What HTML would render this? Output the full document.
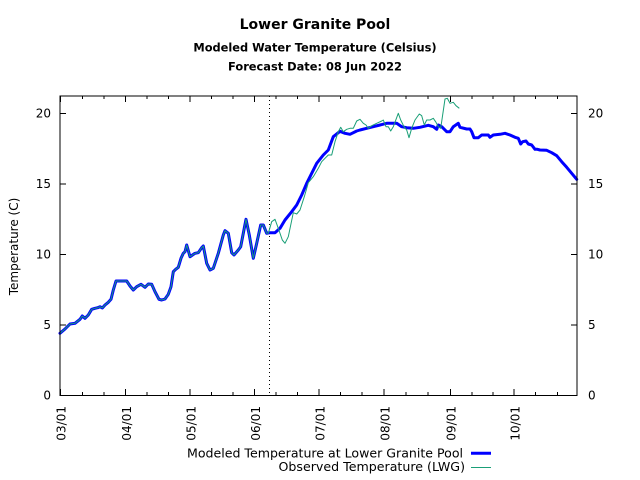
<!DOCTYPE html>
<html><head><meta charset="utf-8"><style>
html,body{margin:0;padding:0;background:#fff;}
svg{display:block;}
text{font-family:"DejaVu Sans","Liberation Sans",sans-serif;fill:#000;}
</style></head><body>
<svg width="640" height="480" viewBox="0 0 640 480" xmlns="http://www.w3.org/2000/svg">
<rect width="640" height="480" fill="#fff"/>
<text x="315" y="29" text-anchor="middle" font-size="14" font-weight="bold">Lower Granite Pool</text>
<text x="315" y="51.5" text-anchor="middle" font-size="11.4" font-weight="bold">Modeled Water Temperature (Celsius)</text>
<text x="315" y="70.5" text-anchor="middle" font-size="11.4" font-weight="bold">Forecast Date: 08 Jun 2022</text>

<!-- y labels left -->
<g font-size="12" text-anchor="end">
<text x="51" y="399.7">0</text>
<text x="51" y="329.2">5</text>
<text x="51" y="258.7">10</text>
<text x="51" y="188.2">15</text>
<text x="51" y="117.7">20</text>
</g>
<g font-size="12" text-anchor="start">
<text x="588" y="399.7">0</text>
<text x="588" y="329.2">5</text>
<text x="588" y="258.7">10</text>
<text x="588" y="188.2">15</text>
<text x="588" y="117.7">20</text>
</g>
<text transform="translate(18,246.5) rotate(-90)" font-size="12" text-anchor="middle">Temperature (C)</text>

<!-- x labels -->
<g font-size="12" text-anchor="end">
<text transform="translate(65.5,406) rotate(-90)">03/01</text>
<text transform="translate(131,406) rotate(-90)">04/01</text>
<text transform="translate(195.5,406) rotate(-90)">05/01</text>
<text transform="translate(260,406) rotate(-90)">06/01</text>
<text transform="translate(324.5,406) rotate(-90)">07/01</text>
<text transform="translate(389.5,406) rotate(-90)">08/01</text>
<text transform="translate(455.5,406) rotate(-90)">09/01</text>
<text transform="translate(519.5,406) rotate(-90)">10/01</text>
</g>

<!-- ticks -->
<g stroke="#000" stroke-width="1" fill="none">
<path d="M60,395.5h6M60,325h6M60,254.5h6M60,184h6M60,113.5h6"/>
<path d="M577,395.5h-6M577,325h-6M577,254.5h-6M577,184h-6M577,113.5h-6"/>
<path d="M60.5,395v-6M125.5,395v-6M190,395v-6M254.5,395v-6M319,395v-6M384,395v-6M450.5,395v-6M514,395v-6"/>
<path d="M60.5,96v6M125.5,96v6M190,96v6M254.5,96v6M319,96v6M384,96v6M450.5,96v6M514,96v6"/>
<path d="M82.5,395v-3M104,395v-3M147,395v-3M168.5,395v-3M211.5,395v-3M233,395v-3M276,395v-3M297.5,395v-3M340.5,395v-3M362,395v-3M406,395v-3M428,395v-3M472,395v-3M493,395v-3M535.5,395v-3M557.5,395v-3"/>
<path d="M82.5,96v3M104,96v3M147,96v3M168.5,96v3M211.5,96v3M233,96v3M276,96v3M297.5,96v3M340.5,96v3M362,96v3M406,96v3M428,96v3M472,96v3M493,96v3M535.5,96v3M557.5,96v3"/>
</g>

<!-- forecast date line -->
<line x1="269.5" y1="96" x2="269.5" y2="395" stroke="#000" stroke-width="1" stroke-dasharray="1,3"/>

<!-- modeled -->
<polyline fill="none" stroke="#0000ff" stroke-width="3" stroke-linejoin="round" stroke-linecap="round" points="60,333.3 65,329 70,324 75,323.3 80,319.3 82.3,316 85,318.3 88.3,315 91.7,309.3 95,308.3 97.7,307.7 100,306.7 102.3,308 105,305 108.3,302.3 111,299.3 113.3,290 116,281 121.7,281 126.7,281 130,286 133.3,290 136.7,286.7 141,284.3 145,287.3 148.3,284 151.7,284.3 155,291.7 159,299.3 161.7,300 165,299 168.3,294.3 171,286.7 173.3,271.7 175.7,269.3 178.3,267.3 181,258.3 183.3,253.3 185,251.7 186.7,245 190,256.7 195,253.3 198.3,252.7 201.7,247.7 203.3,246 206.7,263.3 210,270 213.3,268.3 218.3,253.3 223.3,235 225,230.7 228.3,233.3 231.7,252.7 234,255 238.3,250 240.7,246.7 246,219.3 249.3,235 253.3,258.3 256.7,243.3 260.7,225 263.3,225 266.7,233.3 270,232.7 275,232.7 280,228.3 285,220 291.7,211.7 296.7,205 301.7,195 306.7,183.3 311.7,173.3 316.7,163.3 323.3,155 328.3,150 333.3,136.7 340,131.3 345,133.3 350,134.3 356.7,131 360,130 366.7,128.3 373.3,126.7 380,125 386.7,123.3 396.7,123.3 401.7,126.7 406.7,127.7 413.3,128.3 420,127.3 428.3,125.3 433.3,126.7 436.7,129.3 438.3,125 441.7,126.7 446.7,131.7 450,131.7 453.3,126.7 458.3,123.3 460,127.3 466.7,129 470,129 471.7,131.7 474,137.7 478.3,137.7 481.7,135 488.3,135 490,137.3 493.3,135 500,134.3 505,133.3 510,135 515,137.3 518.3,138.3 520.7,144 522.7,141.7 526,141 528.3,144 531.7,145 535,149.3 537.3,149.3 540,150 546.7,150.3 551.7,152.7 556.7,155.7 561.7,161.7 566.7,167.3 571.7,173.3 576.7,179.3"/>

<!-- observed -->
<polyline fill="none" stroke="#1a9f77" stroke-width="1" stroke-linejoin="round" points="60,333.3 65,329 70,324 75,323.3 80,319.3 82.3,316 85,318.3 88.3,315 91.7,309.3 95,308.3 97.7,307.7 100,306.7 102.3,308 105,305 108.3,302.3 111,299.3 113.3,290 116,281 121.7,281 126.7,281 130,286 133.3,290 136.7,286.7 141,284.3 145,287.3 148.3,284 151.7,284.3 155,291.7 159,299.3 161.7,300 165,299 168.3,294.3 171,286.7 173.3,271.7 175.7,269.3 178.3,267.3 181,258.3 183.3,253.3 185,251.7 186.7,245 190,256.7 195,253.3 198.3,252.7 201.7,247.7 203.3,246 206.7,263.3 210,270 213.3,268.3 218.3,253.3 223.3,235 225,230.7 228.3,233.3 231.7,252.7 234,255 238.3,250 240.7,246.7 246,219.3 249.3,235 253.3,258.3 256.7,243.3 260.7,225 263.3,225 266.7,233.3 268.3,233.3 271.7,221.7 275,219.3 278.3,228.3 282.3,240 285,243.3 288.3,236.7 293.3,212.7 296.7,214 300,210 304.3,196.7 308.3,182.7 313.3,176.7 318.3,168.3 321.7,161.7 325,158.3 328.3,155 331.7,155 335,141.7 338.3,131.7 340.7,127.3 343.3,131.7 346.7,129.3 350,128.3 353.3,128.3 356.7,121 360,119.3 363.3,123.3 366,125 368.3,128.3 371.7,125.7 376.7,123.3 381.7,121 383.3,120 386,126.7 388.3,126.7 390.7,131 393.3,126.7 398.3,113.3 400.7,120 404,126.7 406.7,130 409,137.7 411.7,128.3 415,120 419.3,114 421.7,115.7 424.3,125 426.7,120 430,120 433.3,118.3 436,122.3 438.3,126.7 440.7,128.3 445,99 447.3,98.3 450,103.3 453.3,102.3 456,105.7 459.3,108.3"/>

<!-- frame -->
<rect x="60" y="96" width="517" height="299.5" fill="none" stroke="#000" stroke-width="1"/>

<!-- legend -->
<text x="463" y="457.3" font-size="12" text-anchor="end" textLength="276" lengthAdjust="spacingAndGlyphs">Modeled Temperature at Lower Granite Pool</text>
<text x="465" y="471" font-size="12" text-anchor="end" textLength="186.5" lengthAdjust="spacingAndGlyphs">Observed Temperature (LWG)</text>
<line x1="471" y1="453.3" x2="491" y2="453.3" stroke="#0000ff" stroke-width="3"/>
<line x1="471" y1="467.5" x2="491" y2="467.5" stroke="#1a9f77" stroke-width="1"/>
</svg>
</body></html>
